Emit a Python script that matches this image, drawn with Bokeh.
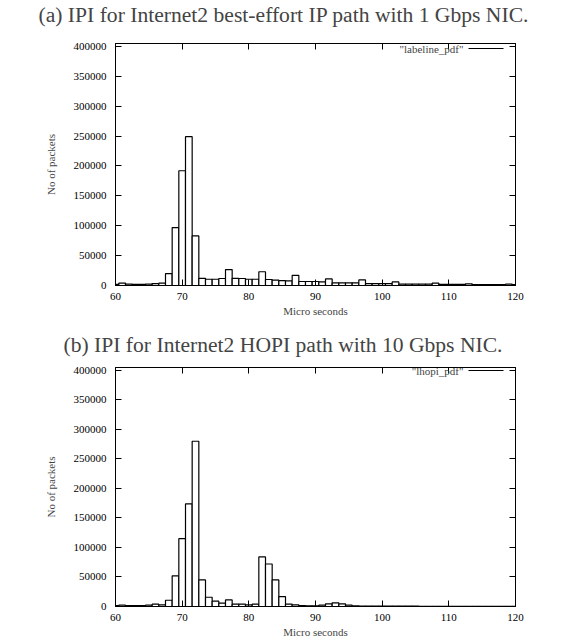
from bokeh.plotting import figure
from bokeh.models import LinearAxis, FixedTicker, Range1d, Label, Arrow, BasicTickFormatter
from bokeh.layouts import column
from bokeh.embed import file_html
from bokeh.resources import INLINE

# ---------------- data ----------------
bin_centers = [60, 61, 62, 63, 64, 65, 66, 67, 68, 69,
               70, 71, 72, 73, 74, 75, 76, 77, 78, 79,
               80, 81, 82, 83, 84, 85, 86, 87, 88, 89,
               90, 91, 92, 93, 94, 95, 96, 97, 98, 99,
               100, 101, 102, 103, 104, 105, 106, 107, 108, 109,
               110, 111, 112, 113, 114, 115, 116, 117, 118, 119,
               120]

packets_best_effort = [2000, 4000, 2200, 2000, 2000, 2200, 3300, 4000, 20000, 97000,
                       192000, 249000, 83000, 12000, 10500, 10500, 11700, 26700, 12000, 11700,
                       10500, 10500, 23000, 10000, 9000, 8300, 7800, 17000, 6700, 6700,
                       6700, 6000, 11000, 4400, 4400, 4400, 4400, 9400, 3300, 3300,
                       3300, 3000, 6000, 2200, 2200, 2200, 2200, 2200, 3900, 2000,
                       2000, 2000, 2000, 2800, 1700, 1700, 1700, 1700, 1700, 2200,
                       1500]

packets_hopi = [1500, 2200, 1700, 1700, 1700, 2200, 3900, 2800, 10600, 52000,
                115000, 174000, 280000, 45000, 15700, 9000, 5600, 11200, 3900, 3900,
                2800, 3900, 84000, 72000, 45000, 16800, 3900, 2800, 1700, 1100,
                1100, 2200, 4500, 6200, 4500, 2200, 1100, 800, 600, 600,
                600, 500, 500, 500, 500, 500, 400, 400, 400, 400,
                400, 400, 400, 400, 400, 400, 400, 400, 400, 400,
                400]

x_ticks = [60, 70, 80, 90, 100, 110, 120]
y_ticks = [0, 50000, 100000, 150000, 200000, 250000, 300000, 350000, 400000]

panel_titles = ["(a) IPI for Internet2 best-effort IP path with 1 Gbps NIC.",
                "(b) IPI for Internet2 HOPI path with 10 Gbps NIC."]
key_names = ['"labeline_pdf"', '"lhopi_pdf"']
x_label = "Micro seconds"
y_label = "No of packets"

SERIF = "Liberation Serif"
TICK_SIZE = "11px"
LEFT = 115
FRAME_W = 400


def style_axis(ax, ticks, labels=True):
    ax.ticker = FixedTicker(ticks=ticks)
    ax.major_tick_in = 6
    ax.major_tick_out = 0
    ax.minor_tick_in = 0
    ax.minor_tick_out = 0
    ax.major_tick_line_color = "black"
    ax.major_tick_line_width = 1
    ax.axis_line_color = "black"
    ax.axis_line_width = 1
    if labels:
        ax.major_label_text_font = SERIF
        ax.major_label_text_font_size = TICK_SIZE
        ax.major_label_text_color = "black"
    else:
        ax.major_label_text_font_size = "1px"
        ax.major_label_text_color = None
        ax.major_label_standoff = 0


def make_panel(title, title_left, title_gap, counts, key,
               height, top_border, bottom_border):
    frame_h = height - top_border - bottom_border
    p = figure(width=559, height=height,
               x_range=Range1d(60, 120), y_range=Range1d(0, 405000),
               output_backend="svg", toolbar_location=None,
               min_border_left=LEFT, min_border_right=559 - LEFT - FRAME_W,
               min_border_top=top_border, min_border_bottom=bottom_border)
    p.title.text = title
    p.title.text_font = SERIF
    p.title.text_font_size = "21.6px"
    p.title.text_font_style = "normal"
    p.title.align = "left"
    p.title.offset = title_left - LEFT
    p.title.standoff = 0
    p.grid.visible = False
    p.outline_line_color = "black"
    p.outline_line_width = 1
    p.background_fill_color = "white"
    p.border_fill_color = "white"

    style_axis(p.xaxis[0], x_ticks)
    p.xaxis[0].major_label_standoff = 7
    p.xaxis[0].axis_label = x_label
    p.xaxis[0].axis_label_text_font = SERIF
    p.xaxis[0].axis_label_text_font_size = TICK_SIZE
    p.xaxis[0].axis_label_text_font_style = "normal"
    p.xaxis[0].axis_label_standoff = 2

    style_axis(p.yaxis[0], y_ticks)
    p.yaxis[0].formatter = BasicTickFormatter(use_scientific=False)
    p.yaxis[0].major_label_standoff = 9
    p.yaxis[0].axis_label = y_label
    p.yaxis[0].axis_label_text_font = SERIF
    p.yaxis[0].axis_label_text_font_size = TICK_SIZE
    p.yaxis[0].axis_label_text_font_style = "normal"
    p.yaxis[0].axis_label_standoff = 14

    # mirrored tick marks (no labels)
    top_ax = LinearAxis()
    style_axis(top_ax, x_ticks, labels=False)
    p.add_layout(top_ax, "above")
    right_ax = LinearAxis()
    style_axis(right_ax, y_ticks, labels=False)
    p.add_layout(right_ax, "right")
    # invisible spacer between the frame and the caption
    spacer = LinearAxis()
    style_axis(spacer, x_ticks, labels=False)
    spacer.major_tick_in = 0
    spacer.major_tick_out = title_gap
    spacer.major_tick_line_color = None
    spacer.axis_line_color = None
    p.add_layout(spacer, "above")

    p.vbar(x=bin_centers, top=counts, width=1, bottom=0,
           fill_color="white", line_color="black", line_width=1.2)

    # gnuplot style key: text then line sample, top-right inside frame
    key_y = frame_h - 5
    p.add_layout(Label(x=348, y=key_y, x_units="screen", y_units="screen",
                       text=key, text_font=SERIF, text_font_size=TICK_SIZE,
                       text_align="right", text_baseline="middle"))
    p.add_layout(Arrow(end=None, x_start=353, y_start=key_y, x_end=388, y_end=key_y,
                       start_units="screen", end_units="screen",
                       line_color="black", line_width=1))
    return p


p1 = make_panel(panel_titles[0], 38, 17, packets_best_effort, key_names[0], 319, 43, 34)
p2 = make_panel(panel_titles[1], 63, 11, packets_hopi, key_names[1], 321, 48, 32)

layout = column(p1, p2, spacing=0)
open("out.html", "w").write(file_html(layout, INLINE))
